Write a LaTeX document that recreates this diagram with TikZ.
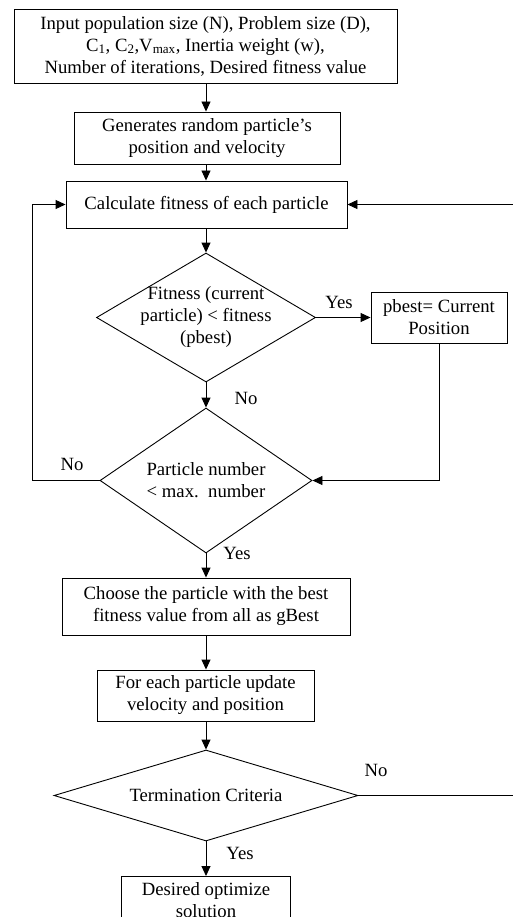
\documentclass[tikz,border=0pt]{standalone}
\usepackage{fontspec}
\setmainfont{Liberation Serif}
\usetikzlibrary{shapes.geometric,arrows.meta}
\begin{document}
\begin{tikzpicture}[x=1pt,y=-1pt,
  every node/.style={font=\fontsize{18.7}{22}\selectfont},
  stepbox/.style={draw,line width=0.9pt,rectangle,inner sep=0pt,align=center},
  dia/.style={draw,line width=0.9pt,diamond,inner sep=0pt},
  lbl/.style={inner sep=0pt},
  flow/.style={line width=0.9pt,-{Triangle[length=10pt,width=9pt]}},
  plain/.style={line width=0.9pt}]
\clip (0,0) rectangle (513,917);
\useasboundingbox (0,0) rectangle (513,917);
\node[stepbox,minimum width=383,minimum height=74] (b1) at (205.5,46)
  {Input population size (N), Problem size (D),\\C\textsubscript{1}, C\textsubscript{2},V\textsubscript{max}, Inertia weight (w),\\Number of iterations, Desired fitness value};
\node[stepbox,minimum width=266,minimum height=52] (b2) at (207,138)
  {Generates random particle’s\\position and velocity};
\node[stepbox,minimum width=281,minimum height=47] (b3) at (206.5,204.5)
  {Calculate fitness of each particle};
\node[dia,minimum width=219,minimum height=129,
  label={[align=center,lbl]center:Fitness (current\\particle) < fitness\\(pbest)}] (d1) at (206,317.5) {};
\node[stepbox,minimum width=136,minimum height=51] (pb) at (439,317.5)
  {pbest= Current\\Position};
\node[dia,minimum width=212,minimum height=145,
  label={[align=center,lbl]center:Particle number\\< max.\ \ number}] (d2) at (206,480.5) {};
\node[stepbox,minimum width=288,minimum height=57] (b4) at (206,606.5)
  {Choose the particle with the best\\fitness value from all as gBest};
\node[stepbox,minimum width=217,minimum height=51] (b5) at (205.5,695.5)
  {For each particle update\\velocity and position};
\node[dia,minimum width=304,minimum height=91,
  label={[lbl]center:Termination Criteria}] (d3) at (206,795.5) {};
\node[stepbox,minimum width=169,minimum height=48,anchor=north] (b6) at (206,876)
  {Desired optimize\\solution};
% connectors
\draw[flow] (d1.north |- b1.south) -- (d1.north |- b2.north);
\draw[flow] (d1.north |- b2.south) -- (d1.north |- b3.north);
\draw[flow] (d1.north |- b3.south) -- (d1.north);
\draw[flow] (d1.east) -- (pb.west);
\node[lbl] (yes1) at (339,302) {Yes};
\draw[flow] (d1.south) -- (d2.north);
\node[lbl] (no1) at (246,398) {No};
\coordinate (pbc) at (pb.south |- d2.east);
\draw[flow] (pb.south) -- (pbc) -- (d2.east);
\coordinate (lc) at (32,480.5);
\coordinate (lt) at (32,204.5);
\draw[flow] (d2.west) -- (lc) -- (lt) -- (b3.west);
\node[lbl] (no2) at (72,464) {No};
\draw[flow] (d2.south) -- (b4.north);
\node[lbl] (yes2) at (237,553) {Yes};
\draw[flow] (b4.south) -- (b4.south |- b5.north);
\draw[flow] (d3.north |- b5.south) -- (d3.north);
\coordinate (rc) at (516,795.5);
\coordinate (rt) at (516,204.5);
\draw[flow] (d3.east) -- (rc) -- (rt) -- (b3.east);
\node[lbl] (no3) at (376,770) {No};
\draw[flow] (d3.south) -- (b6.north);
\node[lbl] (yes3) at (240,853) {Yes};
\end{tikzpicture}
\end{document}
